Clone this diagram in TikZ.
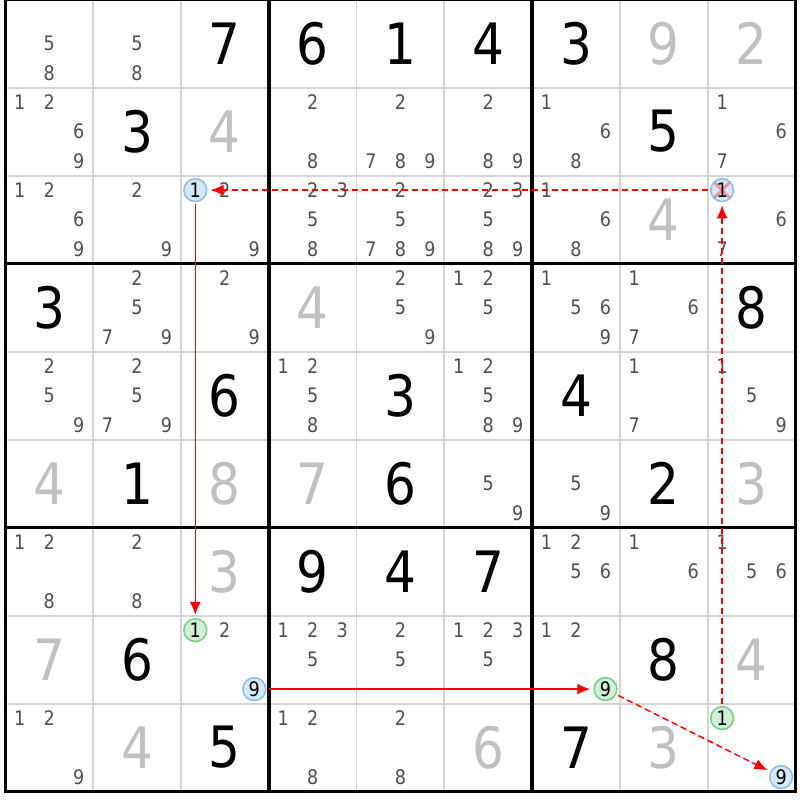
\documentclass[tikz,border=0pt]{standalone}
\usepackage{fontspec}
\setmainfont{DejaVu Sans}[FakeStretch=0.88]
\usetikzlibrary{arrows.meta}
\definecolor{gridgray}{HTML}{D4D4D4}
\definecolor{solvedgray}{HTML}{C0C0C0}
\definecolor{candgray}{HTML}{505050}
\definecolor{bluefill}{HTML}{D5E9FB}
\definecolor{bluering}{HTML}{8CBEF0}
\definecolor{greenfill}{HTML}{D2F0D7}
\definecolor{greenring}{HTML}{78D282}
\definecolor{crossred}{HTML}{F0949C}
\definecolor{linkred}{HTML}{FF0000}
\begin{document}
\begin{tikzpicture}[x=43.9pt,y=-44pt,
		>={Latex[length=6.5pt,width=5.5pt]},
		thinline/.style={gridgray,line width=0.9pt},
		thickline/.style={black,line width=1.8pt},
		given/.style={font=\fontsize{28.5}{28.5}\selectfont,text=black,inner sep=0pt},
		solved/.style={given,text=solvedgray},
		cand/.style={font=\fontsize{10}{10}\selectfont,text=candgray,inner sep=0pt},
		ring/.style={circle,minimum size=11.4pt,inner sep=0pt,line width=0.8pt,font=\fontsize{10}{10}\selectfont},
		startcand/.style={ring,draw=bluering,fill=bluefill},
		endcand/.style={ring,draw=greenring,fill=greenfill},
		crossstart/.style={startcand,path picture={\draw[crossred,line width=1.4pt]
			(path picture bounding box.north west) -- (path picture bounding box.south east)
			(path picture bounding box.north east) -- (path picture bounding box.south west);}},
		chainline/.style={->,draw=linkred,fill=linkred,line width=0.75pt,shorten <=1pt,shorten >=1.5pt},
		weakline/.style={chainline,dash pattern=on 3pt off 2pt}]

	\useasboundingbox (-0.0604,0.0045) rectangle (9.0513,9.0955);

	\foreach \i in {1,...,8} {
		\draw[thinline] (\i,0) -- (\i,9);
		\draw[thinline] (0,\i) -- (9,\i);
	}
	\foreach \i in {0,3,6,9} {
		\draw[thickline] (\i,-0.02) -- (\i,9.02);
		\draw[thickline] (-0.02,\i) -- (9.02,\i);
	}

	\foreach \r/\c/\d in {1/3/7,1/4/6,1/5/1,1/6/4,1/7/3,2/2/3,2/8/5,4/1/3,4/9/8,5/3/6,5/5/3,5/7/4,
		6/2/1,6/5/6,6/8/2,7/4/9,7/5/4,7/6/7,8/2/6,8/8/8,9/3/5,9/7/7}
		\node[given] (g\r\c) at (\c-0.5,\r-0.5) {\d};
	\foreach \r/\c/\d in {1/8/9,1/9/2,2/3/4,3/8/4,4/4/4,6/1/4,6/3/8,6/4/7,6/9/3,7/3/3,8/1/7,8/9/4,
		9/2/4,9/6/6,9/8/3}
		\node[solved] (s\r\c) at (\c-0.5,\r-0.5) {\d};

	\foreach \r/\c/\ds in {1/1/{5,8},1/2/{5,8},
		2/1/{1,2,6,9},2/4/{2,8},2/5/{2,7,8,9},2/6/{2,8,9},2/7/{1,6,8},2/9/{1,6,7},
		3/1/{1,2,6,9},3/2/{2,9},3/3/{2,9},3/4/{2,3,5,8},3/5/{2,5,7,8,9},3/6/{2,3,5,8,9},3/7/{1,6,8},3/9/{6,7},
		4/2/{2,5,7,9},4/3/{2,9},4/5/{2,5,9},4/6/{1,2,5},4/7/{1,5,6,9},4/8/{1,6,7},
		5/1/{2,5,9},5/2/{2,5,7,9},5/4/{1,2,5,8},5/6/{1,2,5,8,9},5/8/{1,7},5/9/{1,5,9},
		6/6/{5,9},6/7/{5,9},
		7/1/{1,2,8},7/2/{2,8},7/7/{1,2,5,6},7/8/{1,6},7/9/{1,5,6},
		8/3/{2},8/4/{1,2,3,5},8/5/{2,5},8/6/{1,2,3,5},8/7/{1,2},
		9/1/{1,2,9},9/4/{1,2,8},9/5/{2,8}}
		\foreach \d in \ds
			\node[cand] (k\r\c\d) at ({\c-0.5+0.336*(mod(\d-1,3)-1)},{\r-0.5+0.335*(int((\d-1)/3)-1)}) {\d};

	\foreach \r/\c/\d/\kind in {3/3/1/startcand,3/9/1/crossstart,8/3/1/endcand,8/3/9/startcand,
		8/7/9/endcand,9/9/1/endcand,9/9/9/startcand}
		\node[\kind] (o\r\c\d) at ({\c-0.5+0.336*(mod(\d-1,3)-1)},{\r-0.5+0.335*(int((\d-1)/3)-1)}) {\d};

	\draw[weakline]  (o991) -- (o391);
	\draw[weakline]  (o391) -- (o331);
	\draw[chainline] (o331) -- (o831);
	\draw[chainline] (o839) -- (o879);
	\draw[weakline]  (o879) -- (o999);
\end{tikzpicture}
\end{document}
